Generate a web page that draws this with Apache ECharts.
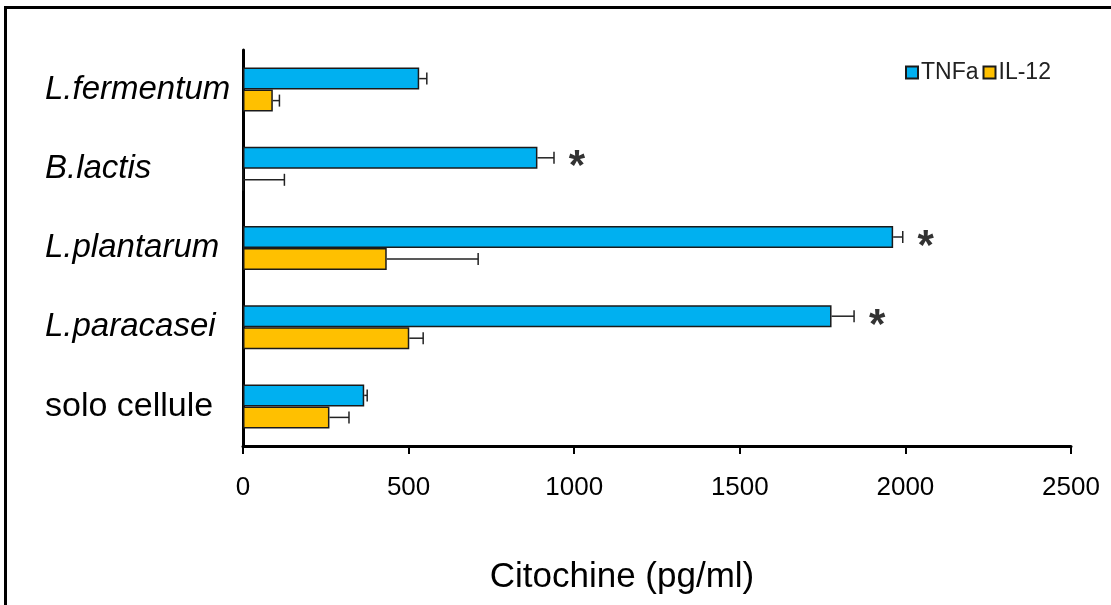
<!DOCTYPE html>
<html>
<head>
<meta charset="utf-8">
<script src="https://cdn.jsdelivr.net/npm/echarts@6/dist/echarts.min.js"></script>
<style>
  html, body { margin: 0; padding: 0; background: #fff; }
  #chart1 { width: 1111px; height: 605px; }
</style>
</head>
<body>
<div id="chart1"></div>
<script>
// 数据 (从下到上)
var categories = ['solo cellule', 'L.paracasei', 'L.plantarum', 'B.lactis', 'L.fermentum'];
var tnfaValues = [366, 1777, 1963, 889, 532];
var tnfaErrors = [9, 68, 29, 50, 23];
var il12Values = [261, 502, 434, 0, 90];
var il12Errors = [59, 42, 276, 125, 20];
var sigMarks = ['', '*', '*', '*', ''];
var xTicks = [0, 500, 1000, 1500, 2000, 2500];

var BAR_W = 22;

function errData(values, errors) {
	var out = [];
	for (var i = 0; i < values.length; i++) {
		out.push([i, values[i], errors[i]]);
	}
	return out;
}

//误差线
function makeErrRender(offset, withMarks) {
	return function(params, api) {
		var idx = api.value(0);
		var v = api.value(1);
		var e = api.value(2);
		var p0 = api.coord([v, idx]);
		var p1 = api.coord([v + e, idx]);
		var y = p0[1] + offset;
		var kids = [{
			type: 'line',
			shape: { x1: p0[0], y1: y, x2: p1[0], y2: y },
			style: { stroke: '#222', lineWidth: 1.5 }
		}, {
			type: 'line',
			shape: { x1: p1[0], y1: y - 6, x2: p1[0], y2: y + 6 },
			style: { stroke: '#222', lineWidth: 1.5 }
		}];
		if (withMarks && sigMarks[idx]) {
			kids.push({
				type: 'text',
				x: p1[0] + 23,
				y: y + 10,
				style: {
					text: sigMarks[idx],
					fill: '#333',
					font: 'bold 42px "Liberation Sans", Arial, sans-serif',
					align: 'center',
					verticalAlign: 'middle'
				}
			});
		}
		return { type: 'group', children: kids };
	};
}

var myChart = echarts.init(document.getElementById('chart1'));
var option = {
	backgroundColor: '#fff',
	animation: false,
	textStyle: { fontFamily: '"Liberation Sans", Arial, sans-serif' },
	graphic: [{
		type: 'rect',
		shape: { x: 5.5, y: 7.5, width: 1200, height: 700 },
		style: { fill: 'none', stroke: '#000', lineWidth: 3 },
		silent: true
	}, {
		type: 'text',
		x: 622,
		y: 577,
		style: {
			text: 'Citochine (pg/ml)',
			font: '35px "Liberation Sans", Arial, sans-serif',
			fill: '#000',
			align: 'center',
			verticalAlign: 'middle'
		}
	}],
	legend: {
		data: ['TNFa', 'IL-12'],
		left: 900,
		top: 56,
		icon: 'rect',
		itemWidth: 12,
		itemHeight: 12,
		itemGap: 4,
		textStyle: { fontSize: 23, color: '#222', padding: [0, 0, 0, -2] }
	},
	grid: {
		left: 243,
		right: 40,
		top: 50,
		bottom: 159,
		containLabel: false
	},
	xAxis: {
		type: 'value',
		min: xTicks[0],
		max: xTicks[xTicks.length - 1],
		interval: 500,
		splitLine: { show: false },
		axisLine: { show: true, lineStyle: { color: '#000', width: 3 } },
		axisTick: { show: true, length: 8, lineStyle: { color: '#000', width: 2 } },
		axisLabel: {
			fontSize: 26,
			color: '#000',
			margin: 29,
			formatter: function(v) { return String(v); }
		}
	},
	yAxis: {
		type: 'category',
		data: categories,
		axisLine: { show: true, lineStyle: { color: '#000', width: 3 } },
		axisTick: { show: false },
		axisLabel: {
			align: 'left',
			margin: 198,
			formatter: function(val) {
				return val === 'solo cellule' ? '{n|' + val + '}' : '{it|' + val + '}';
			},
			rich: {
				it: { fontSize: 33, fontStyle: 'italic', color: '#000' },
				n: { fontSize: 34, color: '#000' }
			}
		}
	},
	series: [{
		name: 'TNFa',
		type: 'bar',
		data: tnfaValues,
		barWidth: BAR_W,
		barGap: '0%',
		itemStyle: { color: '#00B0F0', borderColor: '#1a1a1a', borderWidth: 1.5 }
	}, {
		name: 'IL-12',
		type: 'bar',
		data: il12Values,
		barWidth: BAR_W,
		barGap: '0%',
		itemStyle: { color: '#FFC000', borderColor: '#1a1a1a', borderWidth: 1.5 }
	}, {
		name: 'err-tnfa',
		type: 'custom',
		renderItem: makeErrRender(-BAR_W / 2, true),
		encode: { x: 1, y: 0 },
		data: errData(tnfaValues, tnfaErrors),
		z: 5
	}, {
		name: 'err-il12',
		type: 'custom',
		renderItem: makeErrRender(BAR_W / 2, false),
		encode: { x: 1, y: 0 },
		data: errData(il12Values, il12Errors),
		z: 5
	}]
};
myChart.setOption(option);
</script>
</body>
</html>
